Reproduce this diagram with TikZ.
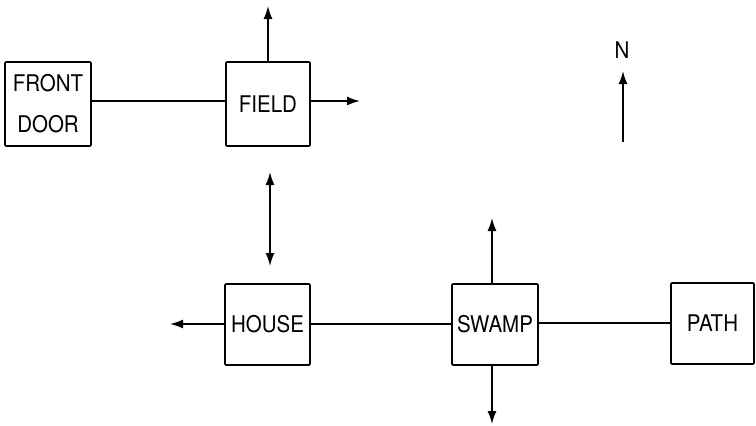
\documentclass[tikz,border=0pt]{standalone}
\usepackage{fontspec}
\setmainfont{TeX Gyre Heros}
\usetikzlibrary{arrows.meta}
\newcommand{\tall}[1]{\scalebox{1}[1.12]{#1}}
\begin{document}
\begin{tikzpicture}[x=1pt,y=-1pt,
  room/.style={draw,line width=1.6pt,rounded corners=1pt,inner sep=0pt,align=center,font=\fontsize{20.5}{41}\selectfont},
  link/.style={line width=1.4pt},
  arr/.style={line width=1.6pt,-{Latex[length=13pt,width=9pt]}},
  darr/.style={line width=1.6pt,{Latex[length=13pt,width=9pt]}-{Latex[length=13pt,width=9pt]}}]
\useasboundingbox (0,0) rectangle (756,426);
\node[room,minimum width=86pt,minimum height=84pt] (door) at (48,104) {\tall{FRONT}\\\tall{DOOR}};
\node[room,minimum width=84pt,minimum height=84pt] (field) at (268,104) {\tall{FIELD}};
\node[room,minimum width=85pt,minimum height=81pt] (house) at (267.5,324.5) {\tall{HOUSE}};
\node[room,minimum width=86pt,minimum height=81pt] (swamp) at (495,324.5) {\tall{SWAMP}};
\node[room,minimum width=83pt,minimum height=81pt] (path) at (712.5,323.5) {\tall{PATH}};
\coordinate (fieldN) at (268,6);
\coordinate (fieldE) at (360,101);
\coordinate (dA) at (270,172);
\coordinate (dB) at (270,266);
\coordinate (houseW) at (170,324);
\coordinate (swampN) at (492,218);
\coordinate (swampS) at (492,424);
\coordinate (nTail) at (623,142);
\coordinate (nTip) at (623,71);
\node[font=\fontsize{20.5}{22}\selectfont] (nlabel) at (622,50) {\tall{N}};
\draw[link] (door.east |- 0,101) -- (field.west |- 0,101);
\draw[arr] (field.east |- 0,101) -- (fieldE);
\draw[arr] (field.north) -- (fieldN);
\draw[darr] (dA) -- (dB);
\draw[arr] (house.west |- 0,324) -- (houseW);
\draw[link] (house.east |- 0,324) -- (swamp.west |- 0,324);
\draw[link] (swamp.east |- 0,323) -- (path.west |- 0,323);
\draw[arr] (swamp.north -| 492,0) -- (swampN);
\draw[arr] (swamp.south -| 492,0) -- (swampS);
\draw[arr] (nTail) -- (nTip);
\end{tikzpicture}
\end{document}
